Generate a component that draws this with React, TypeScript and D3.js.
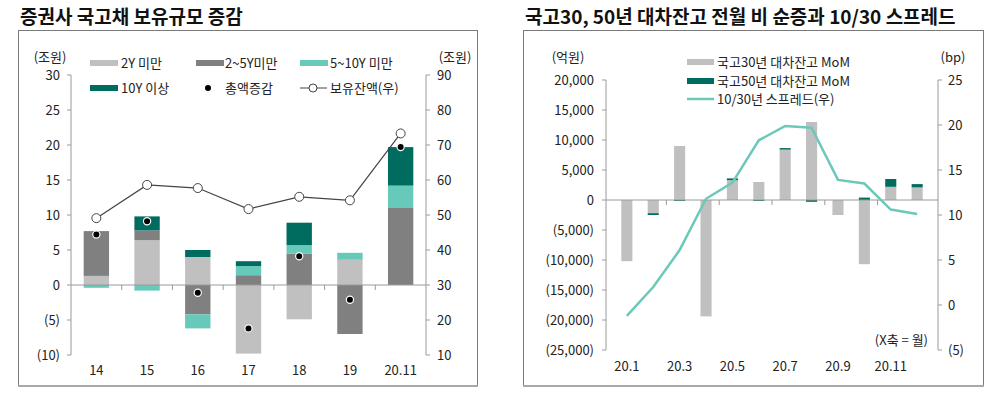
import { useRef, useEffect } from "react"
import * as d3 from "d3"

// left chart: 증권사 국고채 보유규모 증감 (조원)
const years = ["14", "15", "16", "17", "18", "19", "20.11"]
const under2Y = [1.3, 6.4, 4.0, -9.8, -4.9, 3.6, 0]
const y2to5 = [6.4, 1.4, -4.2, 1.4, 4.5, -7.0, 11.0]
const y5to10 = [-0.4, -0.8, -2.0, 1.3, 1.2, 1.0, 3.2]
const over10Y = [0, 2.0, 1.0, 0.7, 3.2, 0, 5.5]
const totalChange = [7.2, 9.1, -1.1, -6.2, 4.1, -2.1, 19.7]
const balance = [49.1, 58.6, 57.7, 51.7, 55.2, 54.2, 73.3]
const leftTicks = [-10, -5, 0, 5, 10, 15, 20, 25, 30]
const rightTicks = [10, 20, 30, 40, 50, 60, 70, 80, 90]

// right chart: 국고30, 50년 대차잔고 (억원) / 10/30 spread (bp)
const months = ["20.1", "20.2", "20.3", "20.4", "20.5", "20.6", "20.7", "20.8", "20.9", "20.10", "20.11", "20.12"]
const bond30 = [-10200, -2200, 9000, -19400, 3300, 3000, 8400, 13000, -2500, -10700, 2200, 2100]
const bond50 = [0, -300, -150, 0, 300, -150, 250, -300, 0, 400, 1300, 550]
const spread = [-1.2, 2.0, 6.1, 11.8, 13.6, 18.3, 19.9, 19.7, 13.9, 13.5, 10.6, 10.1]
const amtTicks = [-25000, -20000, -15000, -10000, -5000, 0, 5000, 10000, 15000, 20000]
const bpTicks = [-5, 0, 5, 10, 15, 20, 25]

const FONT = "'Noto Sans CJK KR', 'Noto Sans', sans-serif"
const C_2Y = "#c0c0c0"
const C_25 = "#808080"
const C_510 = "#66c9b9"
const C_10 = "#006b5f"
const AXIS = "#9a9a9a"
const TXT = "#222"
const FS = 13

const paren = (v: number) => (v < 0 ? `(${d3.format(",")(-v)})` : d3.format(",")(v))

export default function App() {
  const svgRef = useRef<SVGSVGElement>(null)

  useEffect(() => {
    if (!svgRef.current) return
    const svg = d3.select(svgRef.current)
    svg.selectAll("*").remove()
    svg.style("font-family", FONT)

    const txt = (g: any, x: number, y: number, s: string, anchor = "start", size = FS) =>
      g
        .append("text")
        .attr("x", x)
        .attr("y", y)
        .attr("dy", "0.35em")
        .attr("text-anchor", anchor)
        .attr("font-size", size)
        .attr("fill", TXT)
        .text(s)

    // ---- frames and titles
    const frame = (x: number, w: number) => {
      svg.append("rect").attr("x", x + 0.5).attr("y", 30.5).attr("width", w).attr("height", 355).attr("fill", "none").attr("stroke", "#7a7a7a")
      svg.append("line").attr("x1", x).attr("x2", x + w + 1).attr("y1", 386).attr("y2", 386).attr("stroke", "#a8a8a8").attr("stroke-width", 2)
    }
    frame(18, 459)
    frame(523, 460)
    svg.append("text").attr("x", 20).attr("y", 24).attr("font-size", 19).attr("font-weight", "bold").attr("fill", "#111").text("증권사 국고채 보유규모 증감")
    svg.append("text").attr("x", 525).attr("y", 24).attr("font-size", 19).attr("font-weight", "bold").attr("fill", "#111").text("국고30, 50년 대차잔고 전월 비 순증과 10/30 스프레드")

    // ================= LEFT CHART
    {
      const g = svg.append("g")
      const x0 = 71, x1 = 426
      const x = d3.scaleBand().domain(years).range([x0, x1]).paddingInner(0.5).paddingOuter(0.25)
      const y = d3.scaleLinear().domain([-10, 30]).range([355, 75])
      const yR = d3.scaleLinear().domain([10, 90]).range([355, 75])

      // axes
      g.append("line").attr("x1", x0).attr("x2", x0).attr("y1", 75).attr("y2", 355).attr("stroke", AXIS)
      g.append("line").attr("x1", x1).attr("x2", x1).attr("y1", 75).attr("y2", 355).attr("stroke", AXIS)
      leftTicks.forEach((t) => {
        g.append("line").attr("x1", x0 - 4).attr("x2", x0).attr("y1", y(t)).attr("y2", y(t)).attr("stroke", AXIS)
        txt(g, x0 - 11, y(t), paren(t), "end")
      })
      rightTicks.forEach((t) => {
        g.append("line").attr("x1", x1).attr("x2", x1 + 4).attr("y1", yR(t)).attr("y2", yR(t)).attr("stroke", AXIS)
        txt(g, x1 + 11, yR(t), String(t), "start")
      })
      txt(g, 50, 57, "(조원)", "middle")
      txt(g, 455, 57, "(조원)", "middle")

      // stacked bars
      const rows = years.map((yr, i) => ({ yr, a: under2Y[i], b: y2to5[i], c: y5to10[i], d: over10Y[i] }))
      const keys = ["a", "b", "c", "d"]
      const colors: Record<string, string> = { a: C_2Y, b: C_25, c: C_510, d: C_10 }
      const series = d3.stack<any>().keys(keys).offset(d3.stackOffsetDiverging)(rows)
      series.forEach((s) => {
        g.append("g")
          .selectAll("rect")
          .data(s)
          .enter()
          .append("rect")
          .attr("x", (d: any) => x(d.data.yr) || 0)
          .attr("width", x.bandwidth())
          .attr("y", (d) => y(Math.max(d[0], d[1])))
          .attr("height", (d) => Math.abs(y(d[0]) - y(d[1])))
          .attr("fill", colors[s.key])
      })

      // zero line with category ticks
      g.append("line").attr("x1", x0).attr("x2", x1).attr("y1", y(0)).attr("y2", y(0)).attr("stroke", AXIS)
      const step = x.step()
      years.forEach((yr, i) => {
        if (i > 0) {
          const bx = (x(yr) || 0) - (step - x.bandwidth()) / 2
          g.append("line").attr("x1", bx).attr("x2", bx).attr("y1", y(0)).attr("y2", y(0) + 5).attr("stroke", AXIS)
        }
        txt(g, (x(yr) || 0) + x.bandwidth() / 2, 370, yr, "middle")
      })

      // balance line (right axis)
      const cx = (i: number) => (x(years[i]) || 0) + x.bandwidth() / 2
      const line = d3.line<number>().x((_, i) => cx(i)).y((d) => yR(d))
      g.append("path").datum(balance).attr("d", line).attr("fill", "none").attr("stroke", "#444").attr("stroke-width", 1.2)
      g.selectAll(".bal").data(balance).enter().append("circle")
        .attr("cx", (_, i) => cx(i)).attr("cy", (d) => yR(d)).attr("r", 4.5)
        .attr("fill", "#fff").attr("stroke", "#444").attr("stroke-width", 1)

      // total dots
      g.selectAll(".tot").data(totalChange).enter().append("circle")
        .attr("cx", (_, i) => cx(i)).attr("cy", (d) => y(d)).attr("r", 3.6)
        .attr("fill", "#000").attr("stroke", "#fff").attr("stroke-width", 1.2)

      // legend
      const sw = (lx: number, ly: number, c: string) => g.append("rect").attr("x", lx).attr("y", ly - 3).attr("width", 28).attr("height", 6).attr("fill", c)
      sw(90, 63, C_2Y); txt(g, 121, 63, "2Y 미만")
      sw(196, 63, C_25); txt(g, 225, 63, "2~5Y미만")
      sw(300, 63, C_510); txt(g, 330, 63, "5~10Y 미만")
      sw(90, 88, C_10); txt(g, 121, 88, "10Y 이상")
      g.append("circle").attr("cx", 208).attr("cy", 88).attr("r", 3).attr("fill", "#000")
      txt(g, 225, 88, "총액증감")
      g.append("line").attr("x1", 300).attr("x2", 327).attr("y1", 88).attr("y2", 88).attr("stroke", "#444")
      g.append("circle").attr("cx", 313).attr("cy", 88).attr("r", 4).attr("fill", "#fff").attr("stroke", "#444")
      txt(g, 330, 88, "보유잔액(우)")
    }

    // ================= RIGHT CHART
    {
      const g = svg.append("g")
      const x0 = 606, x1 = 938
      const x = d3.scaleBand().domain(months).range([x0, x1]).padding(0.58)
      const y = d3.scaleLinear().domain([-25000, 20000]).range([350, 80])
      const yR = d3.scaleLinear().domain([-5, 25]).range([350, 80])

      g.append("line").attr("x1", x0).attr("x2", x0).attr("y1", 80).attr("y2", 350).attr("stroke", AXIS)
      g.append("line").attr("x1", x1).attr("x2", x1).attr("y1", 80).attr("y2", 350).attr("stroke", AXIS)
      amtTicks.forEach((t) => {
        g.append("line").attr("x1", x0 - 4).attr("x2", x0).attr("y1", y(t)).attr("y2", y(t)).attr("stroke", AXIS)
        txt(g, x0 - 12, y(t), paren(t), "end")
      })
      bpTicks.forEach((t) => {
        g.append("line").attr("x1", x1).attr("x2", x1 + 4).attr("y1", yR(t)).attr("y2", yR(t)).attr("stroke", AXIS)
        txt(g, x1 + 10, yR(t), paren(t), "start")
      })
      txt(g, 568, 57, "(억원)", "middle")
      txt(g, 953, 57, "(bp)", "middle")

      const rows = months.map((m, i) => ({ m, a: bond30[i], b: bond50[i] }))
      const colors: Record<string, string> = { a: C_2Y, b: C_10 }
      const series = d3.stack<any>().keys(["a", "b"]).offset(d3.stackOffsetDiverging)(rows)
      series.forEach((s) => {
        g.append("g")
          .selectAll("rect")
          .data(s)
          .enter()
          .append("rect")
          .attr("x", (d: any) => x(d.data.m) || 0)
          .attr("width", x.bandwidth())
          .attr("y", (d) => y(Math.max(d[0], d[1])))
          .attr("height", (d) => Math.abs(y(d[0]) - y(d[1])))
          .attr("fill", colors[s.key])
      })

      g.append("line").attr("x1", x0).attr("x2", x1).attr("y1", y(0)).attr("y2", y(0)).attr("stroke", AXIS)
      const step = x.step()
      months.forEach((m, i) => {
        const left = (x(m) || 0) - (step - x.bandwidth()) / 2
        if (i > 0 && i % 2 === 0) {
          g.append("line").attr("x1", left).attr("x2", left).attr("y1", y(0)).attr("y2", y(0) + 5).attr("stroke", AXIS)
        }
        if (i % 2 === 0) txt(g, (x(m) || 0) + x.bandwidth() / 2, 366, m, "middle")
      })

      const cx = (i: number) => (x(months[i]) || 0) + x.bandwidth() / 2
      const line = d3.line<number>().x((_, i) => cx(i)).y((d) => yR(d))
      g.append("path").datum(spread).attr("d", line).attr("fill", "none").attr("stroke", "#6cc8b9").attr("stroke-width", 2.5)

      txt(g, 928, 340, "(X축 = 월)", "end")

      // legend
      g.append("rect").attr("x", 687).attr("y", 59).attr("width", 27).attr("height", 6).attr("fill", C_2Y)
      txt(g, 717, 62, "국고30년 대차잔고 MoM")
      g.append("rect").attr("x", 687).attr("y", 78).attr("width", 27).attr("height", 6).attr("fill", C_10)
      txt(g, 717, 81, "국고50년 대차잔고 MoM")
      g.append("line").attr("x1", 687).attr("x2", 714).attr("y1", 99).attr("y2", 99).attr("stroke", "#6cc8b9").attr("stroke-width", 2.5)
      txt(g, 717, 99, "10/30년 스프레드(우)")
    }
  }, [])

  return (
    <div style={{ position: "absolute", left: 0, top: 0, width: 1000, height: 393, background: "#fff" }}>
      <svg ref={svgRef} width={1000} height={393} />
    </div>
  )
}
